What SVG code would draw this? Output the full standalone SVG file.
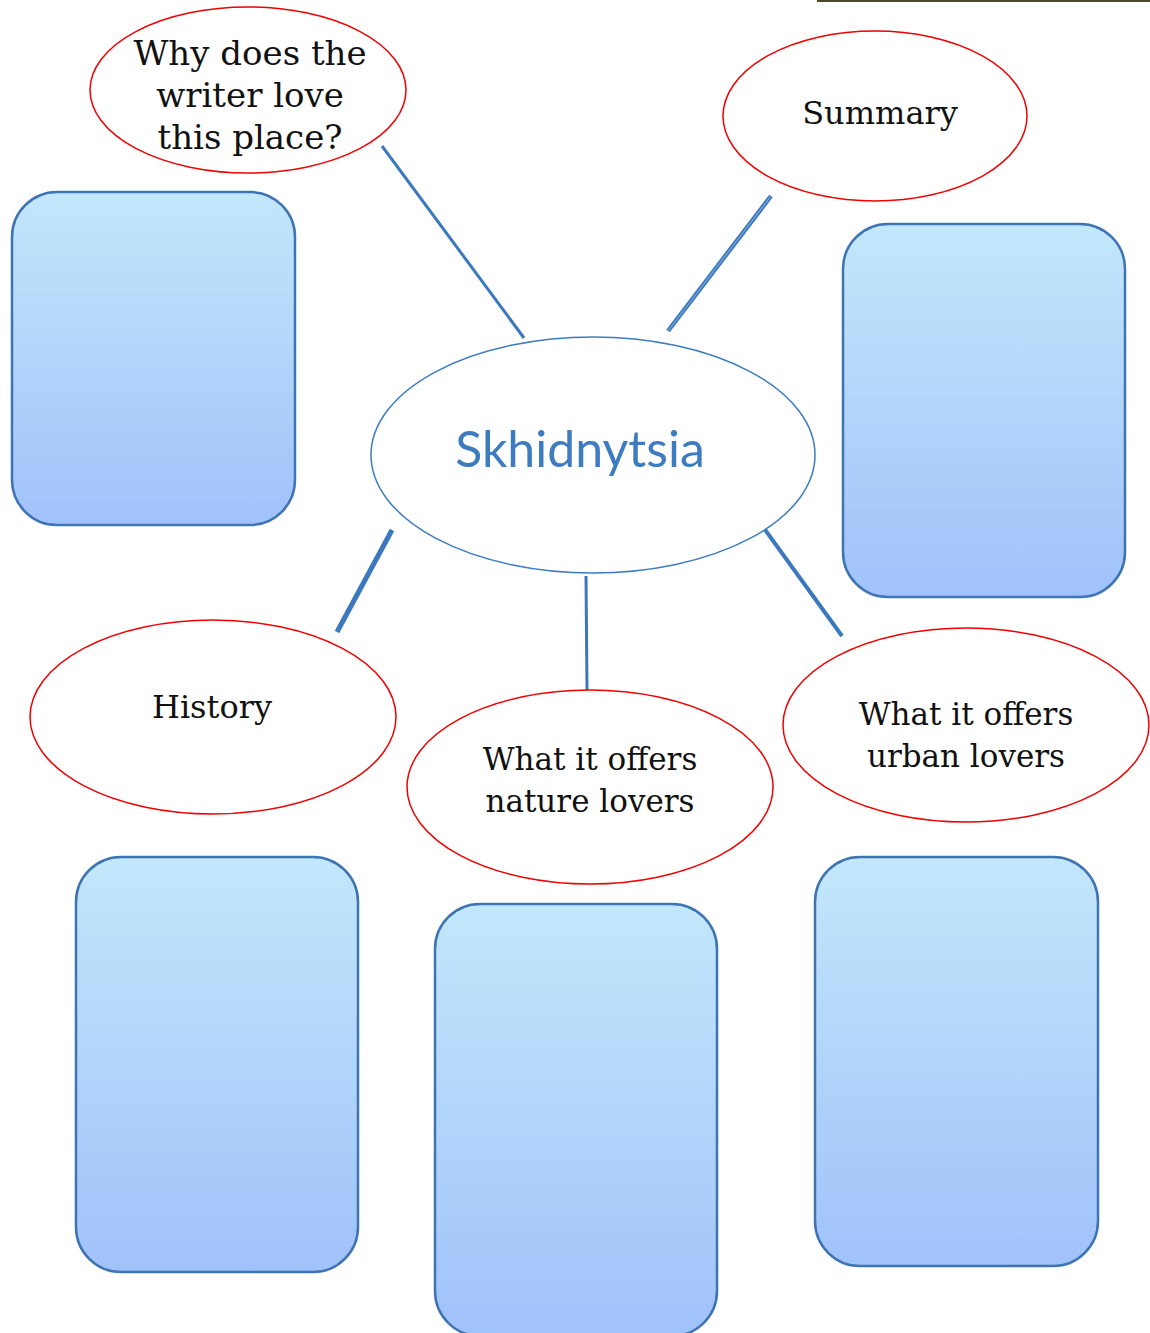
<svg xmlns="http://www.w3.org/2000/svg" width="1150" height="1333" viewBox="0 0 1150 1333">
<style>
.oval{fill:#fff;stroke:#f00000;stroke-width:1.5}
.box{fill:url(#g);stroke:#3e73b4;stroke-width:2.5}
.lbl{font-family:"DejaVu Serif","Liberation Serif",serif;font-size:32px;fill:#111;text-anchor:middle}
.big{font-size:34px}
.mid{font-size:31px}
.con line{stroke:#3c78bd;stroke-linecap:butt}
</style>
<defs>
<linearGradient id="g" x1="0" y1="0" x2="0" y2="1">
<stop offset="0" stop-color="#c3e7fb"/>
<stop offset="1" stop-color="#a0c2fa"/>
</linearGradient>
</defs>
<rect x="0" y="0" width="1150" height="1333" fill="#fff"/>
<rect x="817" y="0" width="333" height="2" fill="#4a4a2a"/>
<g id="box-tl"><rect class="box" x="12" y="192" width="283" height="333" rx="45"/></g>
<g id="box-tr"><rect class="box" x="843" y="224" width="282" height="373" rx="45"/></g>
<g id="box-bl"><rect class="box" x="76" y="857" width="282" height="415" rx="45"/></g>
<g id="box-bm"><rect class="box" x="435" y="904" width="282" height="432" rx="45"/></g>
<g id="box-br"><rect class="box" x="815" y="857" width="283" height="409" rx="45"/></g>
<g id="connectors" class="con">
<line x1="382" y1="146" x2="524" y2="338" stroke-width="3"/>
<line x1="668" y1="331" x2="771" y2="196" stroke-width="4.5"/>
<line x1="668" y1="331" x2="771" y2="196" stroke-width="1.2" style="stroke:#7aa4d6"/>
<line x1="392" y1="530" x2="337" y2="632" stroke-width="5"/>
<line x1="586" y1="576" x2="587" y2="690" stroke-width="3"/>
<line x1="763" y1="527" x2="842" y2="636" stroke-width="4"/>
</g>
<g id="center"><ellipse cx="593" cy="455" rx="222" ry="118" fill="#fff" stroke="#3d7cc0" stroke-width="1.5"/>
<text x="580" y="467" font-family="Lato,'Open Sans',sans-serif" font-size="50" fill="#3d7cc0" text-anchor="middle">Skhidnytsia</text></g>
<g id="why"><ellipse class="oval" cx="248" cy="90" rx="158" ry="83"/>
<text class="lbl big" x="250" y="65">Why does the</text>
<text class="lbl big" x="250" y="107">writer love</text>
<text class="lbl big" x="250" y="149">this place?</text></g>
<g id="summary"><ellipse class="oval" cx="875" cy="116" rx="152" ry="85"/>
<text class="lbl" x="880" y="124">Summary</text></g>
<g id="history"><ellipse class="oval" cx="213" cy="717" rx="183" ry="97"/>
<text class="lbl" x="212" y="718">History</text></g>
<g id="nature"><ellipse class="oval" cx="590" cy="787" rx="183" ry="97"/>
<text class="lbl mid" x="590" y="770">What it offers</text>
<text class="lbl mid" x="590" y="812">nature lovers</text></g>
<g id="urban"><ellipse class="oval" cx="966" cy="725" rx="183" ry="97"/>
<text class="lbl mid" x="966" y="725">What it offers</text>
<text class="lbl mid" x="966" y="767">urban lovers</text></g>
</svg>
